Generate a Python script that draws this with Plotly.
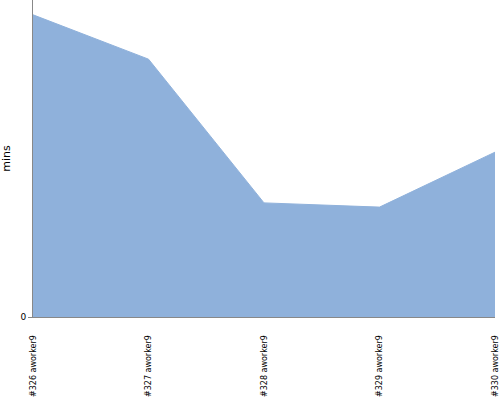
import plotly.graph_objects as go

categories = ["#326 aworker9", "#327 aworker9", "#328 aworker9", "#329 aworker9", "#330 aworker9"]
values = [28.6, 24.4, 10.8, 10.4, 15.6]
y_max = 30

fig = go.Figure()
fig.add_trace(go.Scatter(
    x=list(range(len(categories))), y=values, mode="lines",
    fill="tozeroy", fillcolor="#8fb1db",
    line=dict(color="#8fb1db", width=1),
    hoverinfo="skip",
))
fig.update_layout(
    width=500, height=400,
    margin=dict(l=33, r=5, t=0, b=83),
    paper_bgcolor="white", plot_bgcolor="white",
    showlegend=False,
    font=dict(family="DejaVu Sans", color="#000"),
)
fig.update_xaxes(
    range=[0, len(categories) - 1],
    tickmode="array", tickvals=list(range(len(categories))), ticktext=categories,
    tickangle=-90, tickfont=dict(size=8, family="DejaVu Sans"),
    showgrid=False, zeroline=False, automargin=False,
    ticklabeloverflow="allow", ticklabelstandoff=14,
    showline=True, linecolor="#888", linewidth=1,
    ticks="", ticklen=0,
)
fig.update_yaxes(
    range=[0, y_max],
    tickmode="array", tickvals=[0], ticktext=["0"],
    tickfont=dict(size=9), automargin=False,
    title=dict(text="mins", font=dict(size=11), standoff=10),
    showgrid=False, zeroline=False,
    showline=True, linecolor="#888", linewidth=1,
    ticks="outside", ticklen=4, tickcolor="#888",
)
fig.write_html("out.html", config={"displayModeBar": False},
               post_script="document.body.style.margin='0';document.body.style.overflow='hidden';")
